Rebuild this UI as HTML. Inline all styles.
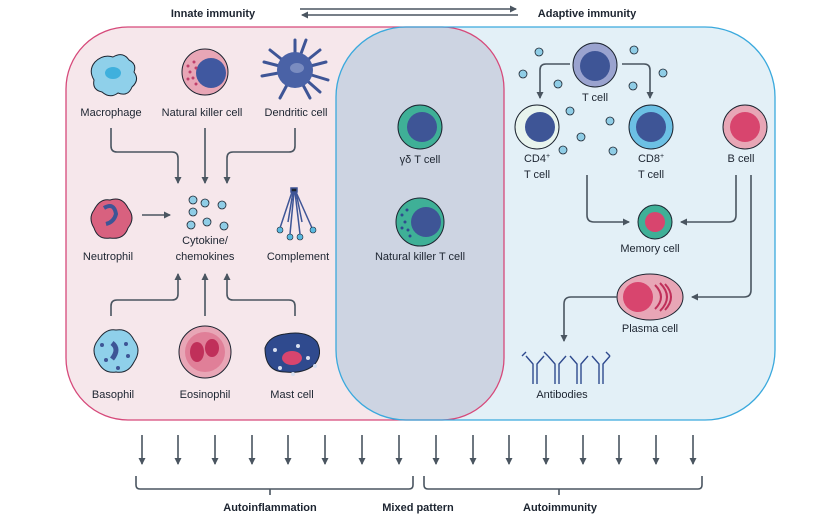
<!DOCTYPE html>
<html><head><meta charset="utf-8"><style>
html,body{margin:0;padding:0;background:#fff;width:829px;height:525px;overflow:hidden}
svg text{font-family:"Liberation Sans",sans-serif;font-size:11px;fill:#1c2430}
.b{font-weight:bold;font-size:11px}
.ln{stroke:#4a5560;stroke-width:1.6;fill:none}
</style></head><body>
<svg width="829" height="525" viewBox="0 0 829 525" xmlns="http://www.w3.org/2000/svg">
<defs>
<marker id="ah" markerWidth="8" markerHeight="8" refX="6" refY="4" orient="auto" markerUnits="userSpaceOnUse"><path d="M0,0.5 L7,4 L0,7.5 Z" fill="#4a5560"/></marker>
<clipPath id="pk"><rect x="66" y="27" width="438" height="393" rx="62"/></clipPath>
</defs>
<text x="213" y="17" class="b" text-anchor="middle">Innate immunity</text>
<text x="587" y="17" class="b" text-anchor="middle">Adaptive immunity</text>
<line x1="300" y1="9" x2="516" y2="9" class="ln" stroke-width="1.2" marker-end="url(#ah)"/>
<line x1="518" y1="15" x2="302" y2="15" class="ln" stroke-width="1.2" marker-end="url(#ah)"/>
<rect x="66" y="27" width="438" height="393" rx="62" fill="#f6e7eb"/>
<rect x="336" y="27" width="439" height="393" rx="70" fill="#e3f0f7"/>
<rect x="336" y="27" width="439" height="393" rx="70" fill="#cdd4e2" clip-path="url(#pk)"/>
<rect x="66" y="27" width="438" height="393" rx="62" fill="none" stroke="#d6497a" stroke-width="1.3"/>
<rect x="336" y="27" width="439" height="393" rx="70" fill="none" stroke="#3aa9dd" stroke-width="1.3"/>
<path d="M95,62 q8,-8 18,-5 q10,-6 16,3 q8,4 5,12 q6,8 -2,15 q-4,10 -14,6 q-8,6 -16,-1 q-10,-2 -8,-12 q-6,-10 1,-18z" fill="#8fd0ea" stroke="#1c2430" stroke-width="1"/>
<ellipse cx="113" cy="73" rx="8" ry="6" fill="#3fb0dd"/>
<circle cx="205" cy="72" r="23" fill="#e8a6b6" stroke="#1c2430" stroke-width="1"/>
<circle cx="211" cy="73" r="15" fill="#4058a0"/>
<g fill="#c0406c"><circle cx="188" cy="66" r="1.5"/><circle cx="190" cy="72" r="1.5"/><circle cx="193" cy="78" r="1.5"/><circle cx="194" cy="62" r="1.5"/><circle cx="188" cy="79" r="1.5"/><circle cx="196" cy="84" r="1.5"/><circle cx="196" cy="68" r="1.5"/></g>
<g stroke="#3e5596" stroke-width="3" stroke-linecap="round"><line x1="295" y1="70" x2="295" y2="40"/><line x1="295" y1="70" x2="320" y2="50"/><line x1="295" y1="70" x2="328" y2="80"/><line x1="295" y1="70" x2="270" y2="50"/><line x1="295" y1="70" x2="262" y2="76"/><line x1="295" y1="70" x2="280" y2="98"/><line x1="295" y1="70" x2="310" y2="98"/><line x1="295" y1="70" x2="306" y2="40"/><line x1="295" y1="70" x2="326" y2="62"/><line x1="295" y1="70" x2="264" y2="62"/><line x1="295" y1="70" x2="320" y2="92"/></g>
<circle cx="295" cy="70" r="18" fill="#4a62a6"/>
<ellipse cx="297" cy="68" rx="7" ry="5" fill="#7a8cc0"/>
<text x="111" y="116" text-anchor="middle">Macrophage</text>
<text x="202" y="116" text-anchor="middle">Natural killer cell</text>
<text x="296" y="116" text-anchor="middle">Dendritic cell</text>
<path d="M111,128 v18 q0,6 6,6 h55 q6,0 6,6 v25" class="ln" marker-end="url(#ah)"/>
<line x1="205" y1="128" x2="205" y2="183" class="ln" marker-end="url(#ah)"/>
<path d="M295,128 v18 q0,6 -6,6 h-56 q-6,0 -6,6 v25" class="ln" marker-end="url(#ah)"/>
<path d="M94,210 q6,-12 16,-10 q12,-4 18,8 q8,10 0,20 q-4,12 -18,10 q-12,2 -16,-10 q-6,-10 0,-18z" fill="#d8617f" stroke="#1c2430" stroke-width="1"/>
<path d="M104,208 q10,-6 12,6 q-2,8 -10,10" stroke="#3e5596" stroke-width="4" fill="none"/>
<line x1="142" y1="215" x2="170" y2="215" class="ln" marker-end="url(#ah)"/>
<g fill="#8fcde6" stroke="#1c2430" stroke-width="0.8"><circle cx="193" cy="200" r="4"/><circle cx="205" cy="203" r="4"/><circle cx="222" cy="205" r="4"/><circle cx="193" cy="212" r="4"/><circle cx="191" cy="225" r="4"/><circle cx="207" cy="222" r="4"/><circle cx="224" cy="226" r="4"/></g>
<text x="205" y="244" text-anchor="middle">Cytokine/</text>
<text x="205" y="260" text-anchor="middle">chemokines</text>
<g stroke="#3e5596" stroke-width="1.5"><rect x="291" y="188" width="6" height="4" fill="#1c2430"/><line x1="292" y1="192" x2="280" y2="228"/><line x1="294" y1="192" x2="290" y2="234"/><line x1="295" y1="192" x2="300" y2="234"/><line x1="296" y1="192" x2="312" y2="228"/><line x1="293" y1="192" x2="288" y2="222"/><line x1="296" y1="192" x2="302" y2="222"/></g>
<g fill="#5ab9e0" stroke="#1c2430" stroke-width="0.6"><circle cx="280" cy="230" r="3"/><circle cx="290" cy="237" r="3"/><circle cx="300" cy="237" r="3"/><circle cx="313" cy="230" r="3"/></g>
<text x="108" y="260" text-anchor="middle">Neutrophil</text>
<text x="298" y="260" text-anchor="middle">Complement</text>
<path d="M111,316 v-10 q0,-6 6,-6 h55 q6,0 6,-6 v-20" class="ln" marker-end="url(#ah)"/>
<line x1="205" y1="316" x2="205" y2="274" class="ln" marker-end="url(#ah)"/>
<path d="M295,316 v-10 q0,-6 -6,-6 h-56 q-6,0 -6,-6 v-20" class="ln" marker-end="url(#ah)"/>
<path d="M98,340 q8,-12 18,-10 q12,-2 18,10 q8,10 0,22 q-6,12 -18,10 q-12,2 -18,-10 q-8,-12 0,-22z" fill="#8fd0ea" stroke="#1c2430" stroke-width="1"/>
<path d="M112,343 q8,6 0,16" stroke="#3e5596" stroke-width="5" fill="none"/>
<g fill="#3e5596"><circle cx="102" cy="345" r="2"/><circle cx="106" cy="360" r="2"/><circle cx="126" cy="344" r="2"/><circle cx="128" cy="356" r="2"/><circle cx="118" cy="368" r="2"/></g>
<circle cx="205" cy="352" r="26" fill="#e8a6b6" stroke="#1c2430" stroke-width="1"/>
<circle cx="205" cy="352" r="20" fill="#e07f98"/>
<ellipse cx="197" cy="352" rx="7" ry="10" fill="#c0305a"/><ellipse cx="212" cy="348" rx="7" ry="9" fill="#c0305a"/>
<path d="M265,348 q4,-12 20,-14 q22,-4 32,8 q6,12 -2,22 q-10,10 -30,8 q-20,0 -20,-24z" fill="#2f4a8e" stroke="#1c2430" stroke-width="1"/>
<ellipse cx="292" cy="358" rx="10" ry="7" fill="#d8456e"/>
<g fill="#d9e0f0"><circle cx="275" cy="350" r="2"/><circle cx="280" cy="368" r="2"/><circle cx="298" cy="346" r="2"/><circle cx="308" cy="358" r="2"/><circle cx="315" cy="366" r="2"/><circle cx="293" cy="374" r="2"/></g>
<text x="113" y="398" text-anchor="middle">Basophil</text>
<text x="205" y="398" text-anchor="middle">Eosinophil</text>
<text x="292" y="398" text-anchor="middle">Mast cell</text>
<circle cx="420" cy="127" r="22" fill="#3fb097" stroke="#1c2430" stroke-width="1"/>
<circle cx="422" cy="127" r="15" fill="#3e5596"/>
<text x="420" y="163" text-anchor="middle">γδ T cell</text>
<circle cx="420" cy="222" r="24" fill="#3fb097" stroke="#1c2430" stroke-width="1"/>
<circle cx="426" cy="222" r="15" fill="#3e5596"/>
<g fill="#2f4a8e"><circle cx="402" cy="215" r="1.5"/><circle cx="405" cy="222" r="1.5"/><circle cx="402" cy="228" r="1.5"/><circle cx="408" cy="230" r="1.5"/><circle cx="407" cy="210" r="1.5"/><circle cx="410" cy="236" r="1.5"/></g>
<text x="420" y="260" text-anchor="middle">Natural killer T cell</text>
<g fill="#8fcde6" stroke="#1c2430" stroke-width="0.8"><circle cx="539" cy="52" r="4"/><circle cx="523" cy="74" r="4"/><circle cx="558" cy="84" r="4"/><circle cx="634" cy="50" r="4"/><circle cx="663" cy="73" r="4"/><circle cx="633" cy="86" r="4"/><circle cx="570" cy="111" r="4"/><circle cx="581" cy="137" r="4"/><circle cx="563" cy="150" r="4"/><circle cx="610" cy="121" r="4"/><circle cx="613" cy="151" r="4"/></g>
<circle cx="595" cy="65" r="22" fill="#9aa3cf" stroke="#1c2430" stroke-width="1"/>
<circle cx="595" cy="66" r="15" fill="#3e5596"/>
<text x="595" y="101" text-anchor="middle">T cell</text>
<path d="M570,64 h-24 q-6,0 -6,6 v28" class="ln" marker-end="url(#ah)"/>
<path d="M622,64 h22 q6,0 6,6 v28" class="ln" marker-end="url(#ah)"/>
<circle cx="537" cy="127" r="22" fill="#e8f4ee" stroke="#1c2430" stroke-width="1"/>
<circle cx="540" cy="127" r="15" fill="#3e5596"/>
<circle cx="651" cy="127" r="22" fill="#6cc0e4" stroke="#1c2430" stroke-width="1"/>
<circle cx="651" cy="127" r="15" fill="#3e5596"/>
<circle cx="745" cy="127" r="22" fill="#e8a6b6" stroke="#1c2430" stroke-width="1"/>
<circle cx="745" cy="127" r="15" fill="#d8456e"/>
<text x="537" y="162" text-anchor="middle">CD4<tspan font-size="7" dy="-4">+</tspan></text>
<text x="537" y="178" text-anchor="middle">T cell</text>
<text x="651" y="162" text-anchor="middle">CD8<tspan font-size="7" dy="-4">+</tspan></text>
<text x="651" y="178" text-anchor="middle">T cell</text>
<text x="741" y="162" text-anchor="middle">B cell</text>
<path d="M587,175 v40 q0,7 7,7 h35" class="ln" marker-end="url(#ah)"/>
<path d="M736,175 v40 q0,7 -7,7 h-48" class="ln" marker-end="url(#ah)"/>
<path d="M751,175 v115 q0,7 -7,7 h-52" class="ln" marker-end="url(#ah)"/>
<circle cx="655" cy="222" r="17" fill="#3fb097" stroke="#1c2430" stroke-width="1"/>
<circle cx="655" cy="222" r="10" fill="#d8456e"/>
<text x="650" y="252" text-anchor="middle">Memory cell</text>
<ellipse cx="650" cy="297" rx="33" ry="23" fill="#e8a6b6" stroke="#1c2430" stroke-width="1"/>
<circle cx="638" cy="297" r="15" fill="#d8456e"/>
<g stroke="#c0305a" stroke-width="2" fill="none"><path d="M655,285 q12,12 0,24"/><path d="M660,283 q14,14 0,28"/><path d="M665,284 q12,13 0,26"/></g>
<text x="650" y="332" text-anchor="middle">Plasma cell</text>
<path d="M617,297 h-46 q-7,0 -7,7 v37" class="ln" marker-end="url(#ah)"/>
<g stroke="#2f4a8e" stroke-width="1.4" fill="none">
<path d="M533,384 v-20 l-7,-8 M537,384 v-20 l7,-8 M522,356 l4,-4 M548,356 l-4,-4"/>
<path d="M555,384 v-20 l-7,-8 M559,384 v-20 l7,-8"/>
<path d="M577,384 v-20 l-7,-8 M581,384 v-20 l7,-8"/>
<path d="M599,384 v-20 l-7,-8 M603,384 v-20 l7,-8 M610,356 l-4,-4"/>
</g>
<text x="562" y="398" text-anchor="middle">Antibodies</text>
<g class="ln" marker-end="url(#ah)" stroke-width="1.4">
<line x1="142" y1="435" x2="142" y2="464"/><line x1="178" y1="435" x2="178" y2="464"/><line x1="215" y1="435" x2="215" y2="464"/><line x1="252" y1="435" x2="252" y2="464"/><line x1="288" y1="435" x2="288" y2="464"/><line x1="325" y1="435" x2="325" y2="464"/><line x1="362" y1="435" x2="362" y2="464"/><line x1="399" y1="435" x2="399" y2="464"/><line x1="436" y1="435" x2="436" y2="464"/><line x1="473" y1="435" x2="473" y2="464"/><line x1="509" y1="435" x2="509" y2="464"/><line x1="546" y1="435" x2="546" y2="464"/><line x1="583" y1="435" x2="583" y2="464"/><line x1="619" y1="435" x2="619" y2="464"/><line x1="656" y1="435" x2="656" y2="464"/><line x1="693" y1="435" x2="693" y2="464"/>
</g>
<path d="M136,476 v9 q0,4 4,4 h269 q4,0 4,-4 v-9 M270,489 v6" class="ln" stroke-width="1.2"/>
<path d="M424,476 v9 q0,4 4,4 h270 q4,0 4,-4 v-9 M559,489 v6" class="ln" stroke-width="1.2"/>
<text x="270" y="511" class="b" text-anchor="middle">Autoinflammation</text>
<text x="418" y="511" class="b" text-anchor="middle">Mixed pattern</text>
<text x="560" y="511" class="b" text-anchor="middle">Autoimmunity</text>
</svg>
</body></html>
